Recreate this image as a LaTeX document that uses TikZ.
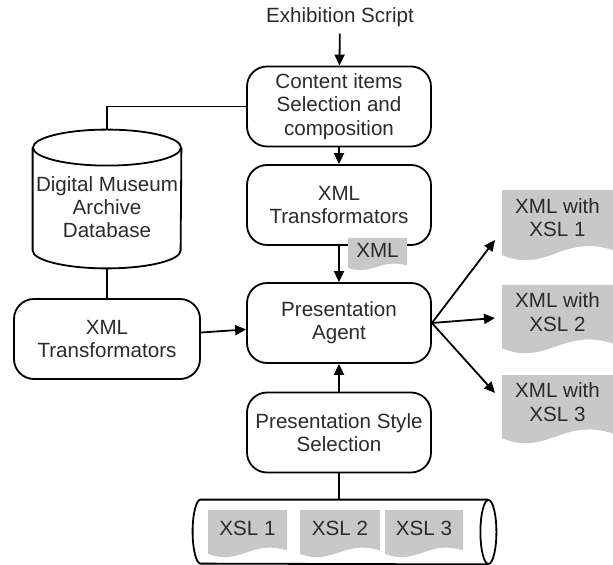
\documentclass[tikz,border=0pt]{standalone}
\usepackage{fontspec}
\setmainfont{Liberation Sans}
\usetikzlibrary{arrows.meta,calc,positioning}
\definecolor{docgray}{HTML}{C8C8C8}
\definecolor{inkdark}{HTML}{2B2B2B}
\newcommand{\wavedoc}[6]{% name, x0, y0, width, height, text
  \fill[docgray] (#2,#3) -- ({#2+#4},#3) -- ({#2+#4},{#3+0.86*#5})
    .. controls ({#2+0.55*#4},{#3+0.62*#5}) and ({#2+0.4*#4},{#3+1.2*#5}) .. (#2,{#3+0.93*#5}) -- cycle;
  \coordinate (#1-nw) at (#2,#3);
  \node[doctext] (#1) at ({#2+0.5*#4},{#3+0.4*#5}) {#6};
}

\begin{document}
\begin{tikzpicture}[
  x=0.5pt, y=-0.5pt,
  font=\fontsize{10.3}{11.6}\selectfont, text=inkdark,
  stepbox/.style={draw, rounded corners=10pt, line width=0.9pt, minimum width=92pt,
                  minimum height=40pt, align=center, inner sep=1pt},
  hull/.style={inner sep=0pt},
  doctext/.style={align=center, inner sep=1pt},
  link/.style={line width=0.9pt},
  flow/.style={-{Triangle[length=5.5pt,width=5pt]}, line width=0.9pt},
]
\useasboundingbox (0,0) rectangle (613,565);

% main column
\node (script) at (340,17) {Exhibition Script};
\node[stepbox] (select) at (339,106.5) {Content items\\Selection and\\composition};
\node[stepbox] (xmlmid) at (339,205) {XML\\Transformators};
\node[stepbox] (agent) at (339,323) {Presentation\\Agent};
\node[stepbox] (style) at (339,432.5) {Presentation Style\\Selection};

% archive branch: upright cylinder
\node[hull, minimum width=74pt, minimum height=69pt] (archive) at (107,199) {};
\draw[link] ($(archive.north)+(0,18)$) ellipse [x radius=37pt, y radius=9pt];
\draw[link] ($(archive.north west)+(0,18)$) -- ($(archive.south west)+(0,-18)$)
  arc[start angle=180, end angle=360, x radius=37pt, y radius=9pt]
  -- ($(archive.north east)+(0,18)$);
\node[align=center, inner sep=1pt] (archivetext) at ($(archive.center)+(0,8)$)
  {Digital Museum\\Archive\\Database};
\node[stepbox, minimum width=93pt] (xmlleft) at (107,339) {XML\\Transformators};

% style store: lying cylinder
\node[hull, minimum width=151.5pt, minimum height=32pt] (xslstore) at (344.5,532) {};
\draw[link] ($(xslstore.east)+(-8,0)$) ellipse [x radius=4pt, y radius=16pt];
\draw[link] ($(xslstore.north east)+(-8,0)$) -- ($(xslstore.north west)+(8,0)$)
  arc[start angle=90, end angle=270, x radius=4pt, y radius=16pt]
  -- ($(xslstore.south east)+(-8,0)$);
\wavedoc{xsl1}{208}{510}{79}{47}{XSL 1}
\wavedoc{xsl2}{300}{510}{80}{47}{XSL 2}
\wavedoc{xsl3}{385}{510}{78}{47}{XSL 3}

% documents
\wavedoc{xmltag}{348}{238}{59}{32}{XML}
\wavedoc{doc1}{502}{190}{111}{70}{XML with\\XSL 1}
\wavedoc{doc2}{502}{285}{111}{68}{XML with\\XSL 2}
\wavedoc{doc3}{502}{375}{111}{68}{XML with\\XSL 3}

% connectors
\draw[flow] (script) -- (select);
\draw[flow] (select) -- (xmlmid);
\draw[flow] (xmlmid.south) -- (agent.north);
\draw[flow] (style) -- (agent);
\draw[flow] (xmlleft) -- (agent);
\draw[link] (select.west) -| (archive.north);
\draw[link] (archive.south) -- (xmlleft.north);
\draw[link] (style.south) -- (style.south |- xslstore.north);
\draw[flow] (agent.east) -- ($(doc1-nw)+(-7,50)$);
\draw[flow] (agent.east) -- ($(doc2-nw)+(-7,33)$);
\draw[flow] (agent.east) -- ($(doc3-nw)+(-7,18)$);
\end{tikzpicture}
\end{document}
